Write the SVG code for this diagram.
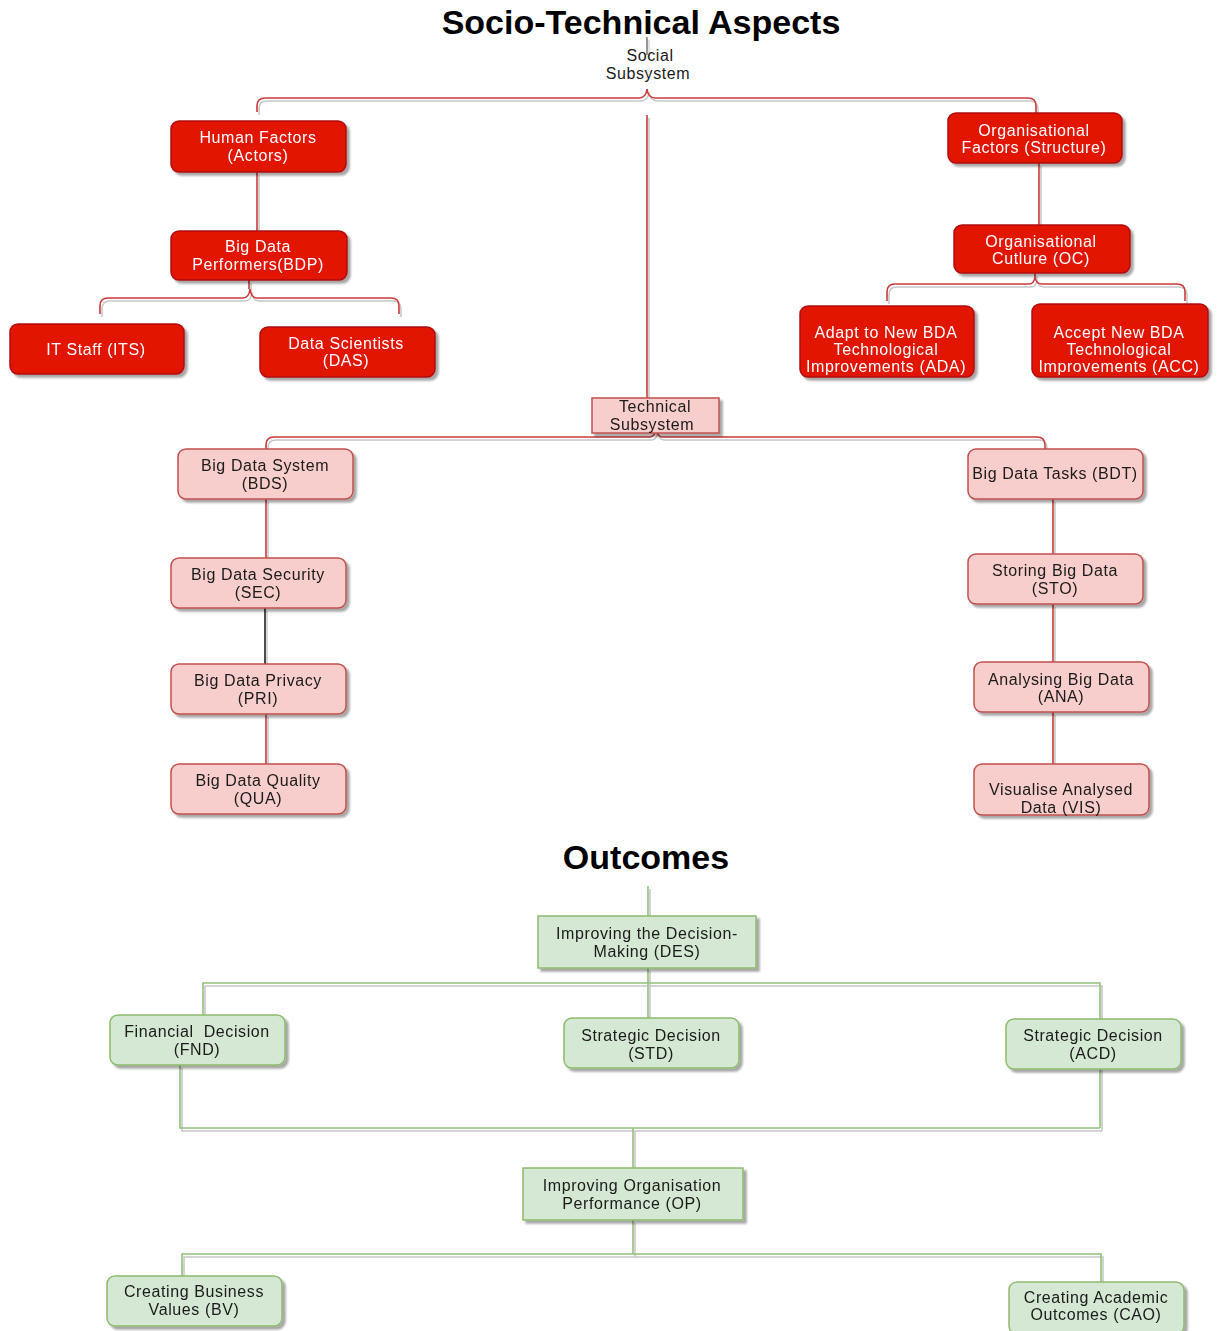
<svg xmlns="http://www.w3.org/2000/svg" width="1219" height="1331" viewBox="0 0 1219 1331">
<style>
.t{font-family:"Liberation Sans",Arial,sans-serif;font-size:16px;letter-spacing:0.6px;text-anchor:middle;white-space:pre}
.h{font-family:"Liberation Sans",Arial,sans-serif;font-size:34px;font-weight:bold;text-anchor:middle;fill:#000}
.w{fill:#ffffff}
.d{fill:#1a1a1a}
.red{fill:#e21405;stroke:#b00c0c;stroke-width:1.5}
.pink{fill:#f8cecc;stroke:#c0504d;stroke-width:1.5}
.green{fill:#d5e8d4;stroke:#8dbb6e;stroke-width:1.5}
.lr{fill:none;stroke:#cc3a3a;stroke-width:1.6}
.lg{fill:none;stroke:#92c07a;stroke-width:1.6}
.lk{fill:none;stroke:#000;stroke-width:1.4}
</style>
<defs>
<filter id="ns" x="-10%" y="-10%" width="125%" height="140%">
<feGaussianBlur in="SourceAlpha" stdDeviation="1.2"/>
<feOffset dx="3" dy="3" result="b"/>
<feComponentTransfer in="b" result="c"><feFuncA type="linear" slope="0.35"/></feComponentTransfer>
<feMerge><feMergeNode in="c"/><feMergeNode in="SourceGraphic"/></feMerge>
</filter>
<filter id="ls" filterUnits="userSpaceOnUse" x="0" y="0" width="1219" height="1331">
<feOffset in="SourceAlpha" dx="2" dy="3" result="o"/>
<feComponentTransfer in="o" result="c"><feFuncA type="linear" slope="0.22"/></feComponentTransfer>
<feMerge><feMergeNode in="c"/><feMergeNode in="SourceGraphic"/></feMerge>
</filter>
</defs>
<rect width="1219" height="1331" fill="#fff"/>

<text class="h" x="641" y="34">Socio-Technical Aspects</text>
<text class="h" x="646" y="869">Outcomes</text>
<g id="social-label">
<text class="t d" x="650" y="61">Social</text>
<text class="t d" x="648" y="79">Subsystem</text>
</g>

<g id="connectors" filter="url(#ls)">
<path class="lk" d="M647,37 V55" style="stroke:#333;stroke-width:1"/>
<path class="lr" d="M257,112 V106 Q257,98 265,98 H639 Q646,98 647,89 Q648,98 655,98 H1028 Q1036,98 1036,106 V113"/>
<path class="lr" d="M647,115 V398"/>
<path class="lr" d="M257,172 V231"/>
<path class="lr" d="M249,280 V289 M100,314 V306 Q100,298 108,298 H243 Q249,298 250,289 Q251,298 257,298 H391 Q399,298 399,306 V314"/>
<path class="lr" d="M1039,163 V225"/>
<path class="lr" d="M1035,273 V277 M887,301 V292 Q887,284 895,284 H1029 Q1034,284 1035,277 Q1036,284 1042,284 H1177 Q1185,284 1185,292 V301"/>
<path class="lr" d="M266,449 V445 Q266,437 274,437 H650 Q655,437 656,428 Q657,437 662,437 H1037 Q1045,437 1045,445 V449"/>
<path class="lr" d="M266,499 V558"/>
<path class="lk" d="M265,608 V664"/>
<path class="lr" d="M266,714 V764"/>
<path class="lr" d="M1053,499 V554"/>
<path class="lr" d="M1053,604 V662"/>
<path class="lr" d="M1053,712 V764"/>
<path class="lg" d="M648,886 V916"/>
<path class="lg" d="M203,1015 V983 H1100 V1128"/>
<path class="lg" d="M648,968 V1018"/>
<path class="lg" d="M180,1065 V1128 H1100"/>
<path class="lg" d="M633,1128 V1168"/>
<path class="lg" d="M633,1220 V1254"/>
<path class="lg" d="M182,1276 V1254 H1101 V1282"/>
</g>

<g id="n-hf" filter="url(#ns)"><rect class="red" x="171" y="121" width="175" height="51" rx="8"/><text class="t w" x="258" y="143">Human Factors</text><text class="t w" x="258" y="161">(Actors)</text></g>
<g id="n-bdp" filter="url(#ns)"><rect class="red" x="171" y="231" width="176" height="49" rx="8"/><text class="t w" x="258" y="252">Big Data</text><text class="t w" x="258" y="270">Performers(BDP)</text></g>
<g id="n-its" filter="url(#ns)"><rect class="red" x="10" y="324" width="174" height="50" rx="8"/><text class="t w" x="96" y="355">IT Staff (ITS)</text></g>
<g id="n-das" filter="url(#ns)"><rect class="red" x="260" y="327" width="175" height="50" rx="8"/><text class="t w" x="346" y="349">Data Scientists</text><text class="t w" x="346" y="366">(DAS)</text></g>
<g id="n-of" filter="url(#ns)"><rect class="red" x="948" y="113" width="174" height="50" rx="8"/><text class="t w" x="1034" y="136">Organisational</text><text class="t w" x="1034" y="153">Factors (Structure)</text></g>
<g id="n-oc" filter="url(#ns)"><rect class="red" x="954" y="225" width="176" height="48" rx="8"/><text class="t w" x="1041" y="247">Organisational</text><text class="t w" x="1041" y="264">Cutlure (OC)</text></g>
<g id="n-ada" filter="url(#ns)"><rect class="red" x="800" y="306" width="174" height="71" rx="8"/><text class="t w" x="886" y="338">Adapt to New BDA</text><text class="t w" x="886" y="355">Technological</text><text class="t w" x="886" y="372">Improvements (ADA)</text></g>
<g id="n-acc" filter="url(#ns)"><rect class="red" x="1032" y="304" width="176" height="73" rx="8"/><text class="t w" x="1119" y="338">Accept New BDA</text><text class="t w" x="1119" y="355">Technological</text><text class="t w" x="1119" y="372">Improvements (ACC)</text></g>

<g id="n-tech" filter="url(#ns)"><rect class="pink" x="592" y="398" width="127" height="35"/><text class="t d" x="655" y="412">Technical</text><text class="t d" x="652" y="430">Subsystem</text></g>

<g id="n-bds" filter="url(#ns)"><rect class="pink" x="178" y="449" width="175" height="50" rx="8"/><text class="t d" x="265" y="471">Big Data System</text><text class="t d" x="265" y="489">(BDS)</text></g>
<g id="n-sec" filter="url(#ns)"><rect class="pink" x="171" y="558" width="175" height="50" rx="8"/><text class="t d" x="258" y="580">Big Data Security</text><text class="t d" x="258" y="598">(SEC)</text></g>
<g id="n-pri" filter="url(#ns)"><rect class="pink" x="171" y="664" width="175" height="50" rx="8"/><text class="t d" x="258" y="686">Big Data Privacy</text><text class="t d" x="258" y="704">(PRI)</text></g>
<g id="n-qua" filter="url(#ns)"><rect class="pink" x="171" y="764" width="175" height="50" rx="8"/><text class="t d" x="258" y="786">Big Data Quality</text><text class="t d" x="258" y="804">(QUA)</text></g>
<g id="n-bdt" filter="url(#ns)"><rect class="pink" x="968" y="449" width="175" height="50" rx="8"/><text class="t d" x="1055" y="479">Big Data Tasks (BDT)</text></g>
<g id="n-sto" filter="url(#ns)"><rect class="pink" x="968" y="554" width="175" height="50" rx="8"/><text class="t d" x="1055" y="576">Storing Big Data</text><text class="t d" x="1055" y="594">(STO)</text></g>
<g id="n-ana" filter="url(#ns)"><rect class="pink" x="974" y="662" width="175" height="50" rx="8"/><text class="t d" x="1061" y="685">Analysing Big Data</text><text class="t d" x="1061" y="702">(ANA)</text></g>
<g id="n-vis" filter="url(#ns)"><rect class="pink" x="974" y="764" width="175" height="51" rx="8"/><text class="t d" x="1061" y="795">Visualise Analysed</text><text class="t d" x="1061" y="813">Data (VIS)</text></g>

<g id="n-des" filter="url(#ns)"><rect class="green" x="538" y="916" width="218" height="52"/><text class="t d" x="647" y="939">Improving the Decision-</text><text class="t d" x="647" y="957">Making (DES)</text></g>
<g id="n-fnd" filter="url(#ns)"><rect class="green" x="110" y="1015" width="175" height="50" rx="8"/><text class="t d" x="197" y="1037">Financial  Decision</text><text class="t d" x="197" y="1055">(FND)</text></g>
<g id="n-std" filter="url(#ns)"><rect class="green" x="564" y="1018" width="175" height="50" rx="8"/><text class="t d" x="651" y="1041">Strategic Decision</text><text class="t d" x="651" y="1059">(STD)</text></g>
<g id="n-acd" filter="url(#ns)"><rect class="green" x="1006" y="1019" width="175" height="50" rx="8"/><text class="t d" x="1093" y="1041">Strategic Decision</text><text class="t d" x="1093" y="1059">(ACD)</text></g>
<g id="n-op" filter="url(#ns)"><rect class="green" x="523" y="1168" width="220" height="52"/><text class="t d" x="632" y="1191">Improving Organisation</text><text class="t d" x="632" y="1209">Performance (OP)</text></g>
<g id="n-bv" filter="url(#ns)"><rect class="green" x="107" y="1276" width="175" height="50" rx="8"/><text class="t d" x="194" y="1297">Creating Business</text><text class="t d" x="194" y="1315">Values (BV)</text></g>
<g id="n-cao" filter="url(#ns)"><rect class="green" x="1009" y="1282" width="175" height="52" rx="8"/><text class="t d" x="1096" y="1303">Creating Academic</text><text class="t d" x="1096" y="1320">Outcomes (CAO)</text></g>
</svg>
